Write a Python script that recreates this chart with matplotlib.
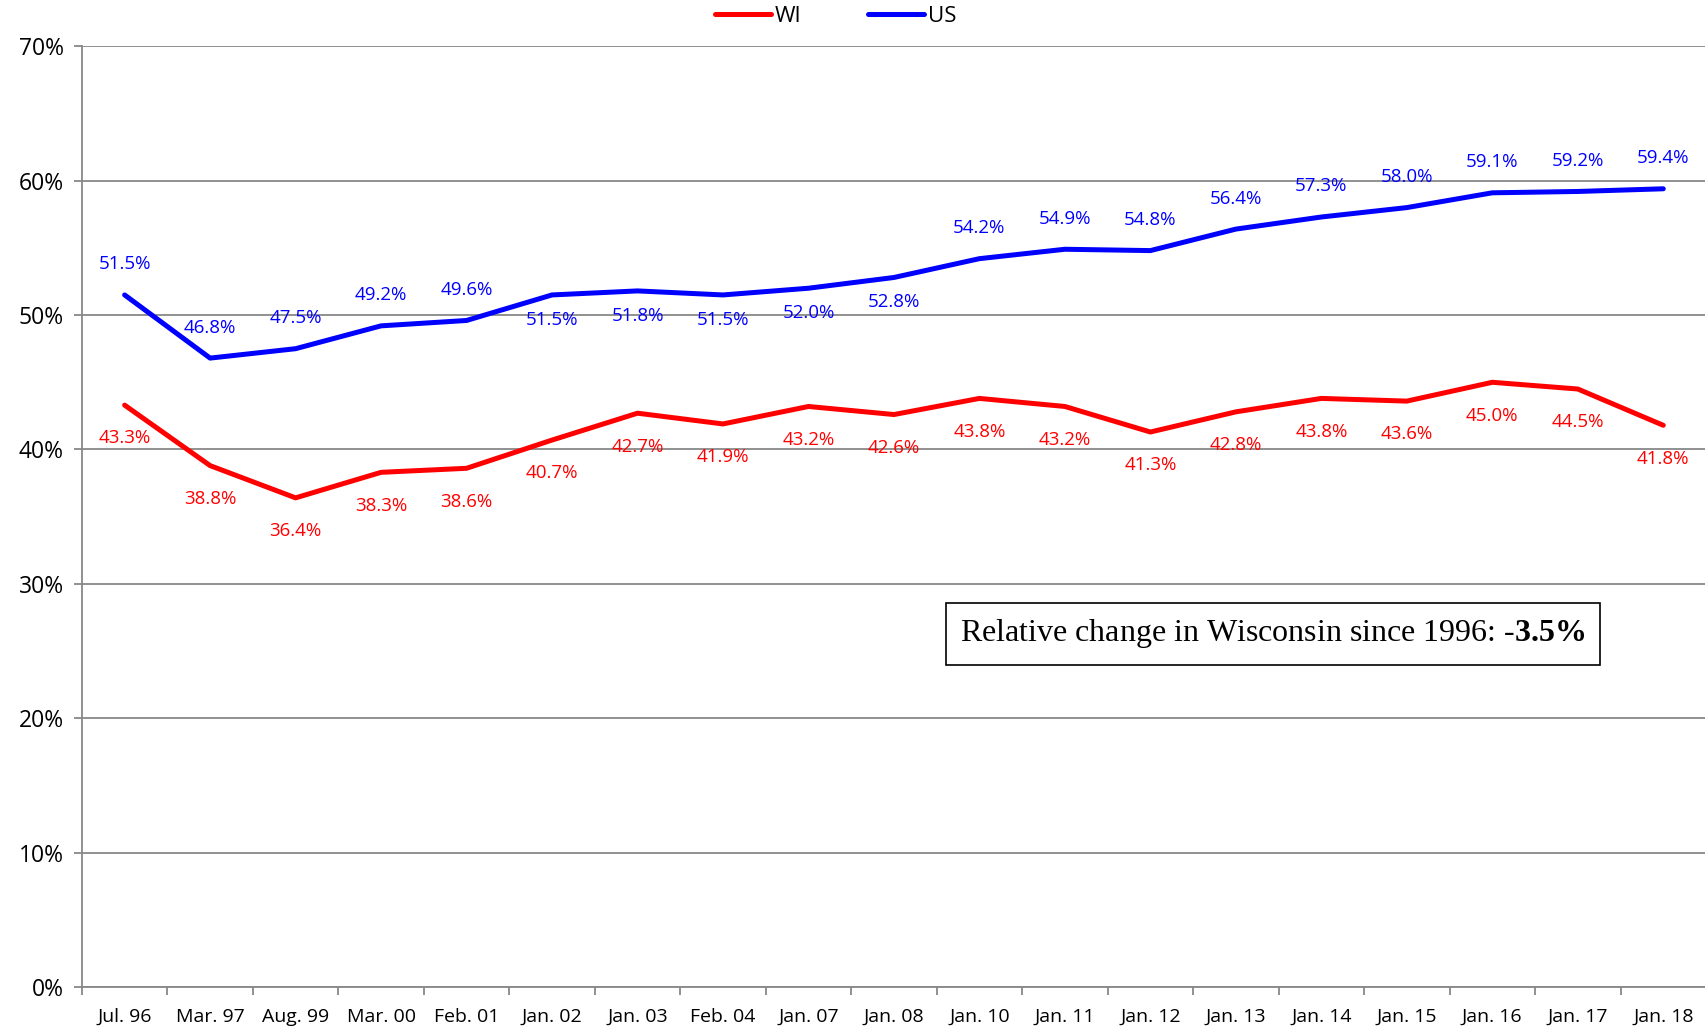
import matplotlib
matplotlib.use("Agg")
import matplotlib.pyplot as plt
from matplotlib.ticker import FixedLocator, FuncFormatter

plt.rcParams['font.family'] = ['Open Sans', 'DejaVu Sans']
plt.rcParams['mathtext.fontset'] = 'custom'
plt.rcParams['mathtext.rm'] = 'Liberation Serif'
plt.rcParams['mathtext.bf'] = 'Liberation Serif:bold'

labels = ["Jul. 96", "Mar. 97", "Aug. 99", "Mar. 00", "Feb. 01", "Jan. 02", "Jan. 03",
          "Feb. 04", "Jan. 07", "Jan. 08", "Jan. 10", "Jan. 11", "Jan. 12", "Jan. 13",
          "Jan. 14", "Jan. 15", "Jan. 16", "Jan. 17", "Jan. 18"]
wi = [43.3, 38.8, 36.4, 38.3, 38.6, 40.7, 42.7, 41.9, 43.2, 42.6, 43.8, 43.2, 41.3,
      42.8, 43.8, 43.6, 45.0, 44.5, 41.8]
us = [51.5, 46.8, 47.5, 49.2, 49.6, 51.5, 51.8, 51.5, 52.0, 52.8, 54.2, 54.9, 54.8,
      56.4, 57.3, 58.0, 59.1, 59.2, 59.4]
# label placement for US: 1 = above, -1 = below
us_pos = [1, 1, 1, 1, 1, -1, -1, -1, -1, -1, 1, 1, 1, 1, 1, 1, 1, 1, 1]

fig = plt.figure(figsize=(17.06, 10.32), dpi=100)
ax = fig.add_axes([0.048, 0.0436, 0.952, 0.9115])

x = list(range(len(labels)))
ax.plot(x, wi, color="#FF0000", lw=3.6, solid_capstyle="round", label="WI", zorder=3)
ax.plot(x, us, color="#0000FF", lw=3.6, solid_capstyle="round", label="US", zorder=3)

for i, v in enumerate(wi):
    ax.annotate("%.1f%%" % v, (i, v), xytext=(0, -24), textcoords="offset points",
                ha="center", va="center", color="#FF0000", fontsize=13.5)
for i, v in enumerate(us):
    off = 22 if us_pos[i] > 0 else -18
    ax.annotate("%.1f%%" % v, (i, v), xytext=(0, off), textcoords="offset points",
                ha="center", va="center", color="#0000FF", fontsize=13.5)

ax.set_xlim(-0.5, len(labels) - 0.5)
ax.set_ylim(0, 70)
ax.set_yticks(range(0, 71, 10))
ax.yaxis.set_major_formatter(FuncFormatter(lambda v, p: "%d%%" % v))
ax.set_xticks(x)
ax.set_xticklabels(labels)
ax.xaxis.set_minor_locator(FixedLocator([i - 0.5 for i in range(len(labels) + 1)]))
ax.tick_params(axis="x", which="major", length=0, pad=15, labelsize=14)
ax.tick_params(axis="x", which="minor", length=6, width=1.3, color="#888888", direction="out")
ax.tick_params(axis="y", length=6, width=1.3, color="#888888", labelsize=16.5, pad=7)

ax.grid(axis="y", color="#888888", lw=1.3, zorder=0)
ax.set_axisbelow(True)
for s in ["top", "right"]:
    ax.spines[s].set_visible(False)
for s in ["left", "bottom"]:
    ax.spines[s].set_color("#888888")
    ax.spines[s].set_linewidth(1.3)

fig.legend(loc="center", bbox_to_anchor=(0.49, 0.984), ncol=2, frameon=False,
           fontsize=16, handlelength=2.5, columnspacing=3.0, handletextpad=0.2)

fig.text(0.746, 0.386, r"Relative change in Wisconsin since 1996: -$\mathbf{3.5\%}$",
         ha="center", va="center", fontsize=23, family="Liberation Serif",
         bbox=dict(boxstyle="square,pad=0.45", fc="white", ec="black", lw=1.2))

fig.savefig("out.png", dpi=100)
